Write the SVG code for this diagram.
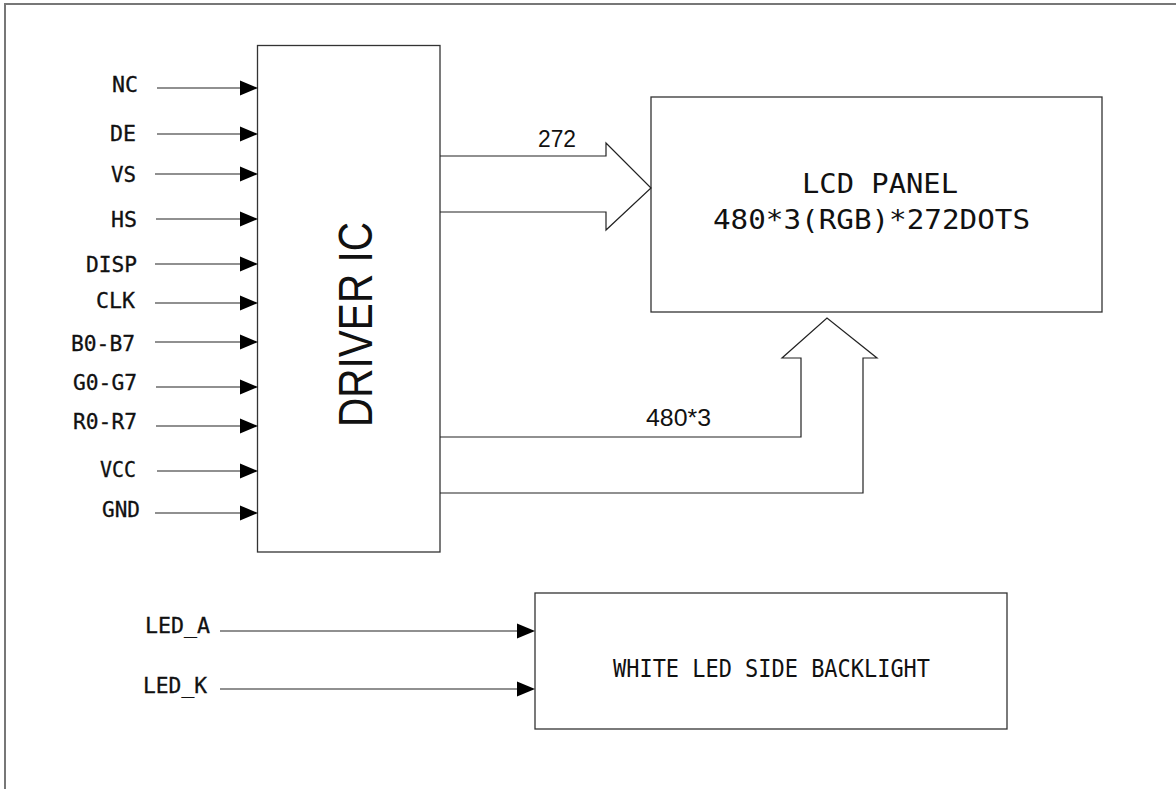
<svg xmlns="http://www.w3.org/2000/svg" width="1176" height="789" viewBox="0 0 1176 789">
  <style>
    .box { fill: #fff; stroke: #333; stroke-width: 1.3; }
    .frame { fill: none; stroke: #777; stroke-width: 2; }
    .wire { fill: none; stroke: #222; stroke-width: 1.2; }
    .bus { fill: none; stroke: #222; stroke-width: 1.2; stroke-linejoin: miter; }
    .head { fill: #000; stroke: none; }
    .pin { font-family: "DejaVu Sans Mono", "Liberation Mono", monospace; font-size: 21px; fill: #111; stroke: #111; stroke-width: 0.3; text-anchor: end; }
    .mono { font-family: "DejaVu Sans Mono", "Liberation Mono", monospace; fill: #111; }
    .sans { font-family: "Liberation Sans", Arial, sans-serif; fill: #111; }
    .num { font-family: "Liberation Sans", Arial, sans-serif; font-size: 23px; fill: #111; }
  </style>

  <rect class="frame" x="5" y="4" width="1200" height="800"/>

  <g id="driver-ic">
    <rect class="box" x="257.5" y="45.5" width="182.5" height="506.5"/>
    <text class="sans" font-size="48" transform="translate(372,427) rotate(-90)" textLength="205" lengthAdjust="spacingAndGlyphs">DRIVER IC</text>
  </g>

  <g id="lcd-panel">
    <rect class="box" x="651" y="97" width="451" height="215" stroke="#111"/>
    <text class="mono" font-size="27" x="802" y="193" textLength="156" lengthAdjust="spacingAndGlyphs">LCD PANEL</text>
    <text class="mono" font-size="26" x="713" y="229" textLength="317" lengthAdjust="spacingAndGlyphs">480*3(RGB)*272DOTS</text>
  </g>

  <g id="backlight">
    <rect class="box" x="535" y="593" width="472" height="136"/>
    <text class="mono" font-size="24" x="613" y="677" textLength="317" lengthAdjust="spacingAndGlyphs">WHITE LED SIDE BACKLIGHT</text>
  </g>

  <g id="pin-labels">
    <text class="pin" x="138" y="92" textLength="26" lengthAdjust="spacingAndGlyphs">NC</text>
    <text class="pin" x="136" y="141" textLength="26" lengthAdjust="spacingAndGlyphs">DE</text>
    <text class="pin" x="136" y="182" textLength="25" lengthAdjust="spacingAndGlyphs">VS</text>
    <text class="pin" x="137" y="227" textLength="26" lengthAdjust="spacingAndGlyphs">HS</text>
    <text class="pin" x="137" y="272" textLength="51" lengthAdjust="spacingAndGlyphs">DISP</text>
    <text class="pin" x="135" y="308" textLength="39" lengthAdjust="spacingAndGlyphs">CLK</text>
    <text class="pin" x="135" y="351" textLength="64" lengthAdjust="spacingAndGlyphs">B0-B7</text>
    <text class="pin" x="137" y="390" textLength="64" lengthAdjust="spacingAndGlyphs">G0-G7</text>
    <text class="pin" x="137" y="429" textLength="64" lengthAdjust="spacingAndGlyphs">R0-R7</text>
    <text class="pin" x="136" y="477" textLength="36" lengthAdjust="spacingAndGlyphs">VCC</text>
    <text class="pin" x="140" y="517" textLength="38" lengthAdjust="spacingAndGlyphs">GND</text>
    <text class="pin" x="210" y="633" textLength="65" lengthAdjust="spacingAndGlyphs" stroke-width="0">LED_A</text>
    <text class="pin" x="207" y="693" textLength="64" lengthAdjust="spacingAndGlyphs" stroke-width="0">LED_K</text>
  </g>

  <g id="connectors">
    <path class="wire" d="M157 88H245M157 134H245M155 174H245M156 219H245M155 264H245M155 303H245M155 342H245M156 387H245M156 426H245M157 471H245M155 513H245M220 631H522M220 689H522"/>
    <polygon class="head" points="258,88 240,80.5 240,95.5"/>
    <polygon class="head" points="258,134 240,126.5 240,141.5"/>
    <polygon class="head" points="258,174 240,166.5 240,181.5"/>
    <polygon class="head" points="258,219 240,211.5 240,226.5"/>
    <polygon class="head" points="258,264 240,256.5 240,271.5"/>
    <polygon class="head" points="258,303 240,295.5 240,310.5"/>
    <polygon class="head" points="258,342 240,334.5 240,349.5"/>
    <polygon class="head" points="258,387 240,379.5 240,394.5"/>
    <polygon class="head" points="258,426 240,418.5 240,433.5"/>
    <polygon class="head" points="258,471 240,463.5 240,478.5"/>
    <polygon class="head" points="258,513 240,505.5 240,520.5"/>
    <polygon class="head" points="535,631 517,623.5 517,638.5"/>
    <polygon class="head" points="535,689 517,681.5 517,696.5"/>

    <path class="bus" d="M440 156H606V143L651 188L606 230V212H440"/>
    <text class="num" x="538" y="147" textLength="38" lengthAdjust="spacingAndGlyphs">272</text>

    <path class="bus" d="M440 437H801V358H782L827 318L877 358H863V493H440"/>
    <text class="num" x="646" y="426" textLength="65" lengthAdjust="spacingAndGlyphs">480*3</text>
  </g>
</svg>
